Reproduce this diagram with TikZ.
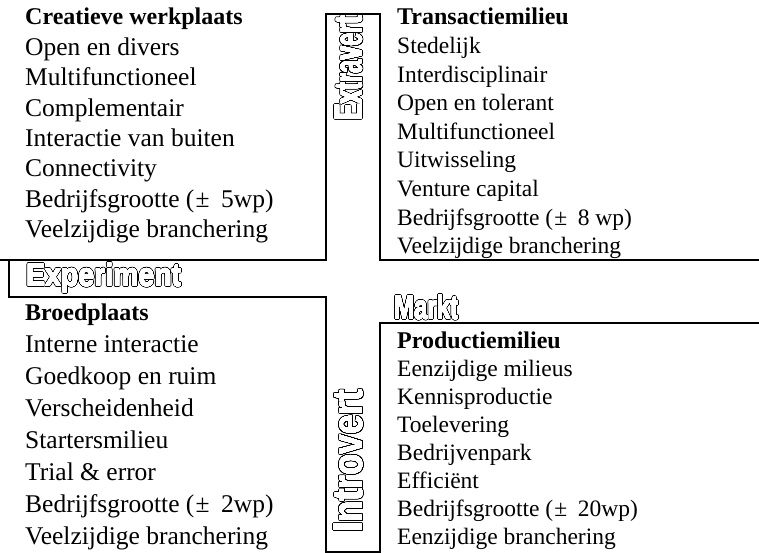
\documentclass[tikz,border=0pt]{standalone}
\usepackage{fontspec}
\setmainfont{Liberation Serif}
\newfontfamily\labelfont{Liberation Sans}
\usepackage{contour}
\contournumber{32}
\usepackage{graphicx}

% squeezed bold word
\newcommand{\capword}[3]{\resizebox{#2pt}{#3pt}{\labelfont\bfseries #1}}
% hollow caption: white letters inside a black rim
\newcommand{\hollow}[3]{%
  \makebox[0pt][l]{\contourlength{1.2pt}\color{white}\contour{black}{\capword{#1}{#2}{#3}}}%
  {\contourlength{0.2pt}\color{white}\contour{white}{\capword{#1}{#2}{#3}}}}
\newcommand{\pmwp}[1]{(\hspace{0.05em}±\hspace{0.45em}#1)}

\tikzset{
  frame/.style={line width=1.6pt},
  itemL/.style={anchor=base west, inner sep=0pt, font=\fontsize{25.5}{26}\selectfont},
  headL/.style={itemL, font=\fontsize{24}{26}\selectfont\bfseries},
  itemR/.style={anchor=base west, inner sep=0pt, font=\fontsize{23.5}{24}\selectfont},
  headR/.style={itemR, font=\fontsize{24}{24}\selectfont\bfseries},
  caption/.style={inner sep=0pt}
}

\begin{document}
\begin{tikzpicture}[x=1pt,y=-1pt]
\useasboundingbox (0,0) rectangle (759,553);

% frame lines of the four fields
\draw[frame] (0,260) -- (326,260) -- (326,14) -- (380,14) -- (380,260) -- (759,260);
\draw[frame] (9,260) -- (9,297) -- (326,297) -- (326,552) -- (380,552) -- (380,323) -- (759,323);

% Creatieve werkplaats
\node[headL] (tl0) at (25,25) {Creatieve werkplaats};
\foreach \t [count=\i] in {Open en divers, Multifunctioneel, Complementair,
  Interactie van buiten, Connectivity, Bedrijfsgrootte \pmwp{5wp}, Veelzijdige branchering}
  \node[itemL] (tl\i) at (25,25+30.4*\i) {\t};

% Transactiemilieu
\node[headR] (tr0) at (397,25) {Transactiemilieu};
\foreach \t [count=\i] in {Stedelijk, Interdisciplinair, Open en tolerant, Multifunctioneel,
  Uitwisseling, Venture capital, Bedrijfsgrootte \pmwp{8 wp}, Veelzijdige branchering}
  \node[itemR] (tr\i) at (397,25+28.6*\i) {\t};

% Broedplaats
\node[headL] (bl0) at (25,320) {Broedplaats};
\foreach \t [count=\i] in {Interne interactie, Goedkoop en ruim, Verscheidenheid,
  Startersmilieu, Trial \& error, Bedrijfsgrootte \pmwp{2wp}, Veelzijdige branchering}
  \node[itemL] (bl\i) at (25,320+32.1*\i) {\t};

% Productiemilieu
\node[headR] (br0) at (397,348) {Productiemilieu};
\foreach \t [count=\i] in {Eenzijdige milieus, Kennisproductie, Toelevering,
  Bedrijvenpark, Efficiënt, Bedrijfsgrootte \pmwp{20wp}, Eenzijdige branchering}
  \node[itemR] (br\i) at (397,348+28.1*\i) {\t};

% axis captions
\node[caption, rotate=90] (extravert) at (349,68) {\hollow{Extravert}{104}{27}};
\node[caption, anchor=base west] (experiment) at (26,286) {\hollow{Experiment}{155}{23}};
\node[caption, anchor=base west] (markt) at (394,319) {\hollow{Markt}{64}{24}};
\node[caption, rotate=90] (introvert) at (349,461) {\hollow{Introvert}{142}{29}};
\end{tikzpicture}
\end{document}
